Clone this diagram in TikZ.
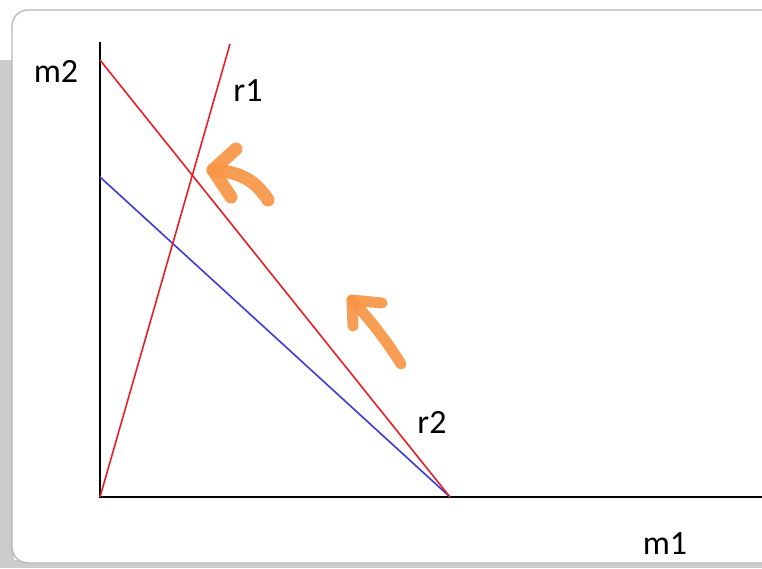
\documentclass[tikz,border=0pt]{standalone}
\usepackage{fontspec}
\setmainfont{Carlito}
\definecolor{orng}{RGB}{247,150,70}
\definecolor{rline}{RGB}{235,30,40}
\definecolor{bline}{RGB}{60,60,215}
\begin{document}
\begin{tikzpicture}[x=1pt,y=-1pt,
  axis/.style={line width=2.2pt,black},
  rl/.style={line width=1.6pt,rline},
  bl/.style={line width=1.6pt,bline},
  lbl/.style={font=\fontsize{34}{36}\selectfont,inner sep=0pt},
  orarrow/.style={line width=13pt,orng,line cap=round,line join=round,opacity=0.92}]
\useasboundingbox (0,0) rectangle (762,568);
\fill[white] (0,0) rectangle (762,568);
\fill[black!20] (0,60) rectangle (14,568);
\fill[black!20] (0,560) rectangle (762,568);
\draw[black!28,line width=1.4pt,fill=white,rounded corners=16pt] (12,10) rectangle (800,563);
% axes
\coordinate (O) at (100,497);
\coordinate (ytop) at (100,42);
\coordinate (xend) at (762,497);
\draw[axis] (ytop) -- (O) -- (xend);
% lines
\coordinate (r2a) at (100,60);
\coordinate (X) at (450,497);
\coordinate (ba) at (100,177);
\coordinate (r1b) at (230,44);
\draw[bl] (ba) -- (X);
\draw[rl] (r2a) -- (X);
\draw[rl] (O) -- (r1b);
% labels
\node[lbl] (m2) at (56,71) {m2};
\node[lbl] (r1) at (248,91) {r1};
\node[lbl] (r2) at (432,422) {r2};
\node[lbl] (m1) at (665,544) {m1};
% orange arrows
\coordinate (t1) at (213,170);
\draw[orarrow] (268,200) .. controls (255,180) and (240,172) .. (t1);
\draw[orarrow] (236,149) -- (t1) -- (231,197);
\coordinate (t2) at (352,300);
\draw[orarrow,line width=11pt] (401,364) .. controls (385,338) and (368,318) .. (t2);
\draw[orarrow,line width=11pt] (382,303) -- (t2) -- (353,326);
\end{tikzpicture}
\end{document}
